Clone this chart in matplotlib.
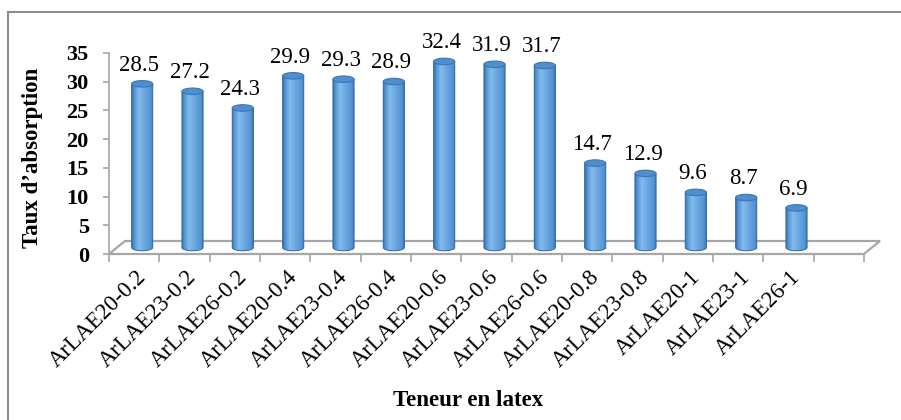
import numpy as np
import matplotlib
matplotlib.use("Agg")
import matplotlib.pyplot as plt
from matplotlib.patches import Polygon, Ellipse, PathPatch
from matplotlib.path import Path
from matplotlib.colors import LinearSegmentedColormap
from matplotlib.lines import Line2D

plt.rcParams['font.family'] = ['Liberation Serif', 'DejaVu Serif']

# Data
categories = ["ArLAE20-0.2", "ArLAE23-0.2", "ArLAE26-0.2",
              "ArLAE20-0.4", "ArLAE23-0.4", "ArLAE26-0.4",
              "ArLAE20-0.6", "ArLAE23-0.6", "ArLAE26-0.6",
              "ArLAE20-0.8", "ArLAE23-0.8",
              "ArLAE20-1", "ArLAE23-1", "ArLAE26-1"]
values = [28.5, 27.2, 24.3, 29.9, 29.3, 28.9, 32.4, 31.9, 31.7,
          14.7, 12.9, 9.6, 8.7, 6.9]
y_ticks = [0, 5, 10, 15, 20, 25, 30, 35]
n_slots = 15  # category slots on the floor (one left empty at the end)

W, H = 901, 420
fig = plt.figure(figsize=(W / 100, H / 100), dpi=100)
fig.patch.set_facecolor("white")

ax = fig.add_axes([109 / W, 166 / H, 755 / W, 201 / H])
ax.set_xlim(0, n_slots)
ax.set_ylim(0, 35)
ax.patch.set_visible(False)

# pixel scale helpers for the pseudo-3D depth
px_x = 755 / n_slots          # pixels per category
px_y = 201 / 35               # pixels per unit value
dx = 16 / px_x                # depth offset in x (data units)
dy = 13 / px_y                # depth offset in y (data units)

# floor plane
floor = Polygon([(0, 0), (n_slots, 0), (n_slots + dx, dy), (dx, dy)],
                closed=True, facecolor="white", edgecolor="#A6A6A6",
                lw=1.6, zorder=1, clip_on=False)
ax.add_patch(floor)

# axes styling
for s in ["top", "right", "bottom"]:
    ax.spines[s].set_visible(False)
ax.spines["left"].set_color("#A6A6A6")
ax.spines["left"].set_linewidth(1.2)
ax.set_yticks(y_ticks)
ax.set_yticklabels([str(v) for v in y_ticks], fontsize=16, fontweight="bold")
ax.tick_params(axis="y", direction="out", length=4, width=1.2,
               color="#A6A6A6", pad=10.5)
ax.set_xticks(np.arange(n_slots + 1))
ax.set_xticklabels([])
ax.tick_params(axis="x", direction="out", length=6, width=1.2,
               color="#A6A6A6")

# cylinder gradient
cyl_cmap = LinearSegmentedColormap.from_list(
    "cyl", [(0.0, "#3570B0"), (0.1, "#5193D3"), (0.32, "#84BBEC"),
            (0.55, "#6DA9E1"), (0.85, "#5594D4"), (1.0, "#3571B0")])
grad = np.linspace(0, 1, 256).reshape(1, -1)

bw = 0.42                     # bar width (category units)
eh = 6.5 / px_y               # ellipse height (value units)
base = dy / 2
t = np.linspace(np.pi, 2 * np.pi, 60)

for i, v in enumerate(values):
    cx = i + 0.5 + dx / 2
    top = v + dy / 2
    x0, x1 = cx - bw / 2, cx + bw / 2
    # body outline: left side, lower half ellipse, right side
    ex = cx + (bw / 2) * np.cos(t)
    ey = base + (eh / 2) * np.sin(t)
    verts = [(x0, top)] + list(zip(ex, ey)) + [(x1, top), (x0, top)]
    body = Path(verts, closed=True)
    outline = PathPatch(body, facecolor="none", edgecolor="#2F67A3",
                        lw=0.7, zorder=4)
    ax.add_patch(outline)
    img = ax.imshow(grad, cmap=cyl_cmap, extent=[x0, x1, base - eh / 2, top],
                    aspect="auto", zorder=3, interpolation="bilinear")
    img.set_clip_path(PathPatch(body, transform=ax.transData))
    # top cap
    cap = Ellipse((cx, top), bw, eh, facecolor="#4F8ECF",
                  edgecolor="#3A76B6", lw=0.8, zorder=5)
    ax.add_patch(cap)
    # value label
    ax.annotate(f"{v:.1f}", xy=(cx, top), xytext=(-2, 13.5),
                textcoords="offset points", ha="center", va="center",
                fontsize=16.5, zorder=6)

# category labels
for i, lab in enumerate(categories):
    ax.annotate(lab, xy=(i + 0.5, 0), xytext=(1, -9),
                textcoords="offset points", rotation=45,
                rotation_mode="anchor", ha="right", va="top",
                fontsize=16.5, annotation_clip=False)

ax.set_xlim(0, n_slots)
ax.set_ylim(0, 35)

# axis titles
fig.text(33 / W, 1 - 158 / H, "Taux d\u2019absorption", rotation=90,
         ha="center", va="center", fontsize=16.5, fontweight="bold")
fig.text(468 / W, 1 - 401 / H, "Teneur en latex", ha="center",
         va="center", fontsize=16.5, fontweight="bold")

# chart frame
fig.add_artist(Line2D([8 / W, 8 / W], [0, 1 - 12 / H], color="#8C8C8C",
                      lw=1.5, transform=fig.transFigure))
fig.add_artist(Line2D([8 / W, 1], [1 - 12 / H, 1 - 12 / H], color="#8C8C8C",
                      lw=1.5, transform=fig.transFigure))

fig.savefig("out.png", dpi=100, facecolor="white")
